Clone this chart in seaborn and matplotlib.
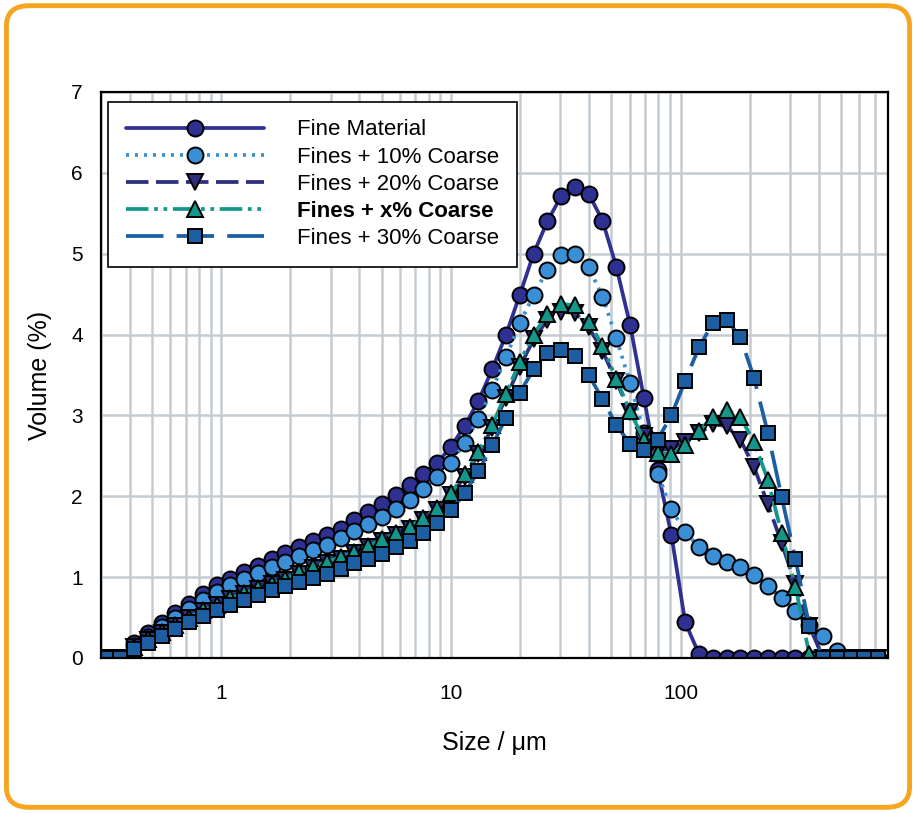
import matplotlib
matplotlib.use("Agg")
import matplotlib.pyplot as plt
import seaborn as sns
from matplotlib.patches import FancyBboxPatch
from matplotlib.ticker import FixedLocator, NullFormatter

# particle size bins (um)
sizes = [0.316, 0.363, 0.417, 0.479, 0.550, 0.631, 0.724, 0.832, 0.955, 1.096,
         1.259, 1.445, 1.660, 1.905, 2.188, 2.512, 2.884, 3.311, 3.802, 4.365,
         5.012, 5.754, 6.607, 7.586, 8.710, 10.00, 11.48, 13.18, 15.14, 17.38,
         19.95, 22.91, 26.30, 30.20, 34.67, 39.81, 45.71, 52.48, 60.26, 69.18,
         79.43, 91.20, 104.7, 120.2, 138.0, 158.5, 182.0, 208.9, 239.9, 275.4,
         316.2, 363.1, 416.9, 478.6, 549.5, 631.0, 724.4]

fine = [0, 0, 0.18, 0.31, 0.43, 0.55, 0.67, 0.79, 0.90, 0.98,
        1.06, 1.14, 1.22, 1.30, 1.37, 1.45, 1.52, 1.60, 1.71, 1.80,
        1.91, 2.01, 2.14, 2.27, 2.41, 2.61, 2.87, 3.18, 3.57, 4.00,
        4.49, 5.00, 5.40, 5.71, 5.83, 5.74, 5.41, 4.84, 4.12, 3.22,
        2.32, 1.52, 0.44, 0.05, 0, 0, 0, 0, 0, 0,
        0, 0, 0, 0, 0, 0, 0]

coarse10 = [0, 0, 0.15, 0.26, 0.38, 0.50, 0.61, 0.72, 0.82, 0.90,
            0.98, 1.05, 1.12, 1.19, 1.26, 1.33, 1.40, 1.48, 1.57, 1.66,
            1.74, 1.84, 1.95, 2.09, 2.24, 2.41, 2.66, 2.96, 3.32, 3.72,
            4.14, 4.49, 4.80, 4.98, 5.00, 4.83, 4.47, 3.96, 3.40, 2.78,
            2.28, 1.84, 1.56, 1.37, 1.26, 1.19, 1.12, 1.02, 0.89, 0.74,
            0.58, 0.41, 0.27, 0.08, 0, 0, 0]

coarse20 = [0, 0, 0.13, 0.22, 0.31, 0.40, 0.49, 0.58, 0.65, 0.73,
            0.79, 0.85, 0.91, 0.97, 1.04, 1.11, 1.17, 1.23, 1.30, 1.37,
            1.45, 1.52, 1.60, 1.71, 1.83, 2.01, 2.24, 2.52, 2.85, 3.22,
            3.60, 3.94, 4.18, 4.28, 4.27, 4.09, 3.80, 3.42, 3.04, 2.74,
            2.56, 2.59, 2.67, 2.78, 2.89, 2.87, 2.70, 2.36, 1.90, 1.42,
            0.91, 0.40, 0, 0, 0, 0, 0]

coarse_x = [0, 0, 0.14, 0.23, 0.32, 0.41, 0.50, 0.59, 0.66, 0.74,
            0.80, 0.86, 0.92, 0.98, 1.06, 1.13, 1.19, 1.25, 1.31, 1.38,
            1.47, 1.54, 1.62, 1.73, 1.85, 2.04, 2.27, 2.55, 2.88, 3.27,
            3.66, 4.00, 4.25, 4.38, 4.36, 4.16, 3.86, 3.45, 3.05, 2.70,
            2.53, 2.52, 2.63, 2.81, 2.98, 3.07, 2.98, 2.67, 2.20, 1.54,
            0.88, 0.05, 0, 0, 0, 0, 0]

coarse30 = [0, 0, 0.11, 0.19, 0.27, 0.36, 0.44, 0.52, 0.59, 0.66,
            0.72, 0.78, 0.84, 0.89, 0.94, 0.99, 1.04, 1.10, 1.17, 1.23,
            1.29, 1.37, 1.45, 1.54, 1.67, 1.83, 2.04, 2.31, 2.63, 2.97,
            3.28, 3.57, 3.77, 3.81, 3.73, 3.50, 3.20, 2.88, 2.65, 2.57,
            2.70, 3.00, 3.43, 3.84, 4.14, 4.18, 3.97, 3.46, 2.78, 1.99,
            1.22, 0.40, 0, 0, 0, 0, 0]

labels = ['Fine Material', 'Fines + 10% Coarse', 'Fines + 20% Coarse',
          'Fines + x% Coarse', 'Fines + 30% Coarse']
x_ticks = [1, 10, 100]
y_ticks = [0, 1, 2, 3, 4, 5, 6, 7]

sns.set_style("white")
plt.rcParams['font.family'] = ['Liberation Sans', 'DejaVu Sans']
plt.rcParams['text.color'] = 'black'
plt.rcParams['axes.labelcolor'] = 'black'
plt.rcParams['xtick.color'] = 'black'
plt.rcParams['ytick.color'] = 'black'

fig = plt.figure(figsize=(9.16, 8.13), dpi=100)
ax = fig.add_axes([0.1103, 0.1907, 0.8592, 0.6962])

# line colour, marker face, linestyle, marker, marker size
styles = [
    ('#2e3192', '#2e3192', '-', 'o', 11.5),
    ('#3a8fd6', '#3a8fd6', (0, (0.8, 1.6)), 'o', 11.5),
    ('#2d2e7e', '#2d2e7e', (0, (6, 2)), 'v', 11),
    ('#14968b', '#14968b', (0, (6, 1.5, 1, 1.5, 1, 1.5)), '^', 11),
    ('#1c5ea2', '#1c5ea2', (0, (10, 3.5)), 's', 10.5),
]
series = [fine, coarse10, coarse20, coarse_x, coarse30]

for vals, name, (col, face, ls, mk, ms) in zip(series, labels, styles):
    sns.lineplot(x=sizes, y=vals, ax=ax, color=col, linestyle=ls, linewidth=2.7,
                 marker=mk, markersize=ms, markerfacecolor=face,
                 markeredgecolor='black', markeredgewidth=1.4,
                 label=name, sort=False, errorbar=None)

ax.set_xscale('log')
ax.set_xlim(0.3, 800)
ax.set_ylim(0, 7)
ax.set_xticks(x_ticks)
ax.set_xticklabels([str(t) for t in x_ticks])
minor = [m * 10.0 ** e for e in range(-1, 3) for m in range(2, 10)]
ax.xaxis.set_minor_locator(FixedLocator(minor))
ax.xaxis.set_minor_formatter(NullFormatter())
ax.set_yticks(y_ticks)

ax.grid(which='both', axis='x', color='#c4ccd1', linewidth=1.8)
ax.grid(which='major', axis='y', color='#c4ccd1', linewidth=1.8)
ax.set_axisbelow(True)

ax.tick_params(axis='both', which='major', direction='out', length=6, width=1.3,
               labelsize=15)
ax.tick_params(axis='x', which='major', pad=13)
ax.tick_params(axis='y', which='major', pad=7)
ax.tick_params(axis='x', which='minor', length=0)
for s in ax.spines.values():
    s.set_color('black')
    s.set_linewidth(1.6)

ax.set_xlabel('Size / \u03bcm', fontsize=18, labelpad=20)
ax.set_ylabel('Volume (%)', fontsize=18, labelpad=14)

leg = ax.legend(loc='upper left', bbox_to_anchor=(0.009, 0.983), fontsize=16,
                frameon=True, fancybox=False, edgecolor='black', framealpha=1,
                handlelength=6.2, handletextpad=1.5, labelspacing=0.28,
                borderpad=0.8, borderaxespad=0)
leg.get_frame().set_linewidth(1.2)
leg.get_texts()[3].set_fontweight('bold')

# orange rounded frame round the figure
frame = FancyBboxPatch((0.007, 0.007), 0.986, 0.986, transform=fig.transFigure,
                       boxstyle='round,pad=0,rounding_size=0.025',
                       facecolor='none', edgecolor='#f7a51e', linewidth=3.5)
fig.patches.append(frame)

fig.savefig('out.png', dpi=100)
